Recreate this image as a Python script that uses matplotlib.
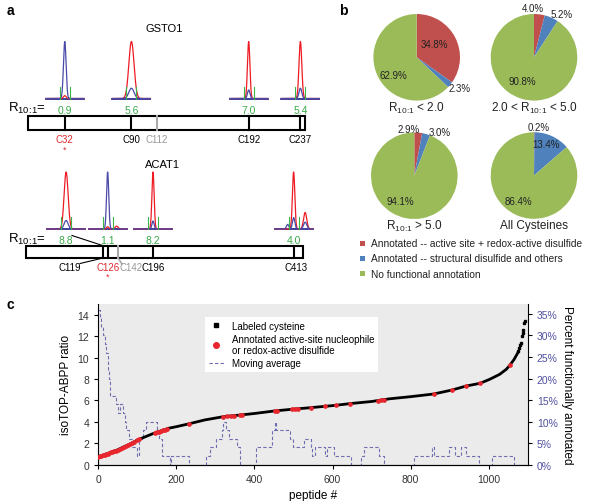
import numpy as np
import matplotlib
matplotlib.use('Agg')
import matplotlib.pyplot as plt
from matplotlib.lines import Line2D
from matplotlib.patches import Rectangle

plt.rcParams['font.family'] = ['Liberation Sans', 'DejaVu Sans']

# ---------------- data ----------------
# panel a: proteins, cysteines, ratios
gsto1_len = 241
gsto1_cys = [32, 90, 112, 192, 237]
gsto1_quant = [32, 90, 192, 237]
gsto1_ratio = ['0.9', '5.6', '7.0', '5.4']
gsto1_red = [0.05, 1.0, 1.0, 1.0]      # relative peak heights (light)
gsto1_blue = [1.0, 0.18, 0.15, 0.18]   # relative peak heights (heavy)
gsto1_sig = [1.3, 2.6, 1.2, 1.4]

acat1_len = 427
acat1_cys = [119, 126, 142, 196, 413]
acat1_quant = [119, 126, 196, 413]
acat1_ratio = ['8.8', '1.1', '8.2', '4.0']
acat1_red = [1.0, 0.04, 1.0, 1.0]
acat1_blue = [0.15, 1.0, 0.14, 0.2]
acat1_sig = [2.0, 1.1, 1.1, 1.2]

# panel b: pies
SUB = r'R$_\mathregular{10\!:\!1}$'
pie_titles = [SUB + ' < 2.0', '2.0 < ' + SUB + ' < 5.0',
              SUB + ' > 5.0', 'All Cysteines']
pie_red = [34.8, 4.0, 2.9, 0.2]
pie_blue = [2.3, 5.2, 3.0, 13.4]
pie_green = [62.9, 90.8, 94.1, 86.4]
legend_b = ['Annotated -- active site + redox-active disulfide',
            'Annotated -- structural disulfide and others',
            'No functional annotation']

# panel c: sorted ratios
curve_x = [0, 10, 20, 30, 40, 50, 60, 70, 80, 90, 100, 120, 140, 160, 180, 200,
           235, 273, 320, 367, 400, 452, 495, 546, 610, 644, 700, 746, 800, 859,
           906, 942, 978, 1002, 1028, 1045, 1054, 1065, 1074]
curve_y = [0.75, 0.85, 0.98, 1.12, 1.25, 1.4, 1.58, 1.75, 1.9, 2.1, 2.3, 2.6, 2.9,
           3.15, 3.4, 3.55, 3.84, 4.18, 4.48, 4.65, 4.78, 5.02, 5.17, 5.33, 5.55,
           5.7, 5.9, 6.15, 6.35, 6.6, 6.97, 7.34, 7.6, 7.96, 8.43, 8.9, 9.27, 9.82,
           10.4]
tip_x = [1076, 1078, 1080, 1083, 1085, 1087, 1089, 1091, 1093]
tip_y = [10.6, 10.9, 11.2, 11.4, 12.0, 12.3, 12.6, 13.2, 13.4]
red_x = [0, 4, 8, 12, 16, 20, 24, 28, 32, 36, 40, 45, 50, 55, 60, 65, 70, 75, 80,
         86, 92, 98, 104, 146, 150, 155, 160, 165, 170, 176, 232, 320, 329, 340,
         347, 362, 367, 452, 458, 495, 503, 511, 546, 580, 610, 644, 717, 725, 733,
         859, 906, 942, 978, 1054]
red_y = [0.75, 0.8, 0.83, 0.87, 0.92, 0.98, 1.03, 1.09, 1.15, 1.2, 1.25, 1.32, 1.4,
         1.49, 1.58, 1.66, 1.75, 1.82, 1.9, 2.02, 2.14, 2.26, 2.36, 2.98, 3.02, 3.09,
         3.15, 3.21, 3.28, 3.35, 3.82, 4.48, 4.5, 4.55, 4.58, 4.63, 4.65, 5.02, 5.04,
         5.17, 5.2, 5.22, 5.33, 5.45, 5.55, 5.7, 5.98, 6.02, 6.08, 6.6, 6.97, 7.34,
         7.6, 9.27]
ma_x = [0, 4, 8, 12, 16, 20, 24, 27, 30, 46, 50, 56, 64, 68, 72, 78, 86, 100, 105,
        115, 122, 150, 156, 164, 183, 186, 232, 275, 285, 302, 316, 320, 326, 336,
        356, 364, 404, 446, 452, 456, 490, 500, 528, 544, 548, 556, 581, 587, 603,
        648, 672, 681, 718, 732, 808, 855, 860, 898, 915, 928, 943, 976, 1008, 1065,
        1100]
ma_y = [36, 34, 32, 30, 28, 26, 22, 20, 16, 14, 12, 14, 12, 10, 8, 6, 4, 2, 6, 8, 10,
        8, 6, 2, 0, 2, 0, 2, 4, 6, 8, 10, 8, 6, 4, 0, 4, 8, 10, 8, 6, 4, 6, 4, 2, 4, 2,
        4, 2, 0, 2, 4, 2, 0, 2, 4, 2, 4, 2, 4, 2, 0, 2, 0, 0]

RED = '#c0504d'
BLUE = '#4f81bd'
GREEN = '#9bbb59'

W, H = 600, 502
fig = plt.figure(figsize=(6, 5.02), dpi=100)


def px_axes(x, y, w, h):
    return fig.add_axes([x / W, 1 - (y + h) / H, w / W, h / H])


# overlay in pixel coordinates (panel a, letters, pie legend)
ov = fig.add_axes([0, 0, 1, 1])
ov.set_xlim(0, W)
ov.set_ylim(H, 0)
ov.axis('off')

for letter, (lx, ly) in zip('abc', [(10, 11), (343, 11), (10, 305)]):
    ov.text(lx, ly, letter, fontsize=10, fontweight='bold', ha='center', va='center')


def chrom(cx, base, rh, bh, sig, extra=()):
    xs = np.linspace(cx - 19, cx + 19, 300)
    red = rh * np.exp(-0.5 * ((xs - cx) / sig) ** 2)
    blue = bh * np.exp(-0.5 * ((xs - cx) / sig) ** 2)
    for dx, r2, b2, s2 in extra:
        red = red + r2 * np.exp(-0.5 * ((xs - cx - dx) / s2) ** 2)
        blue = blue + b2 * np.exp(-0.5 * ((xs - cx - dx) / s2) ** 2)
    ov.plot([cx - 19, cx + 19], [base, base], color='#2e3192', lw=1.3)
    ov.plot(xs, base - 57 * red, color='#ed1c24', lw=0.9)
    ov.plot(xs, base - 57 * blue, color='#4a4aa8', lw=0.9)
    for g in (cx - 5, cx + 5):
        ov.plot([g, g], [base, base - 12], color='#39b54a', lw=0.8)


def protein(name, length, cys, quant, ratio, rh, bh, sig, x0, x1, ytop, ybot,
            base, shifts, extras, gray_c, title_y):
    ov.text((x0 + x1) / 2 - 2, title_y, name, fontsize=8, ha='center', va='center')
    ov.add_patch(Rectangle((x0, ytop), x1 - x0, ybot - ytop, fill=False,
                           ec='black', lw=1.5))
    pos = {c: x0 + c / length * (x1 - x0) for c in cys}
    for c in cys:
        col = '#aaaaaa' if c == gray_c else 'black'
        ov.plot([pos[c], pos[c]], [ytop, ybot], color=col, lw=1.5)
    for i, c in enumerate(quant):
        cx = pos[c] + shifts[i]
        chrom(cx, base, rh[i], bh[i], sig[i], extras[i])
        ov.text(cx, base + 11, ratio[i], color='#3aaa4a', fontsize=7.5,
                ha='center', va='center')
    ov.text(8, base + 9, SUB + '=', fontsize=9.5, ha='left', va='center')
    return pos


# GSTO1
pos = protein('GSTO1', gsto1_len, gsto1_cys, gsto1_quant, gsto1_ratio, gsto1_red,
              gsto1_blue, gsto1_sig, 28, 305, 117.3, 130.7, 99.5,
              [0, 0, 0, 0], [(), (), (), ()], 112, 29)
for c in gsto1_cys:
    col = '#e0282e' if c == 32 else ('#999999' if c == 112 else 'black')
    ov.text(pos[c], 140.5, 'C%d' % c, color=col, fontsize=7, ha='center', va='center')
ov.text(pos[32], 150, '*', color='#e0282e', fontsize=6.5, ha='center', va='center')

# ACAT1
pos = protein('ACAT1', acat1_len, acat1_cys, acat1_quant, acat1_ratio, acat1_red,
              acat1_blue, acat1_sig, 26, 302.7, 246.7, 259, 230,
              [-37, 0, 0, 0],
              [(), ((9, 0.05, 0.0, 1.5),), (),
               ((11.5, 0.29, 0.12, 1.6), (-6, 0.0, 0.08, 1.2))],
              142, 165)
ov.plot([72, pos[119]], [236.5, 246.7], color='black', lw=0.8)
ov.plot([80, pos[119]], [264.5, 259], color='black', lw=0.8)
ov.plot([pos[142], 122], [259, 265], color='#aaaaaa', lw=1.2)
lab_x = {119: 70, 126: pos[126], 142: 131, 196: pos[196], 413: 296.5}
for c in acat1_cys:
    col = '#e0282e' if c == 126 else ('#999999' if c == 142 else 'black')
    ov.text(lab_x[c], 268, 'C%d' % c, color=col, fontsize=7, ha='center', va='center')
ov.text(pos[126], 277.5, '*', color='#e0282e', fontsize=6.5, ha='center', va='center')

# ---------------- panel b ----------------
pie_centers = [(416.7, 58.3), (534, 58.3), (414.3, 176.7), (534, 176.5)]
pct_pos = [[(0.41, 0.31), (1.0, -0.72), (-0.54, -0.42)],
           [(-0.02, 1.15), (0.64, 1.0), (-0.28, -0.54)],
           [(-0.14, 1.09), (0.59, 1.02), (-0.33, -0.58)],
           [(0.1, 1.13), (0.29, 0.73), (-0.36, -0.58)]]
for i, (cx, cy) in enumerate(pie_centers):
    ax = px_axes(cx - 50, cy - 50, 100, 100)
    ax.pie([pie_red[i], pie_blue[i], pie_green[i]], colors=[RED, BLUE, GREEN],
           startangle=90, counterclock=False, radius=1,
           wedgeprops=dict(linewidth=0))
    ax.set_xlim(-1.155, 1.155)
    ax.set_ylim(-1.155, 1.155)
    ax.set_aspect('equal')
    ax.patch.set_visible(False)
    vals = [pie_red[i], pie_blue[i], pie_green[i]]
    for v, (tx, ty) in zip(vals, pct_pos[i]):
        ax.text(tx, ty, '%.1f%%' % v, fontsize=7, ha='center', va='center',
                color='#222222', clip_on=False)
    ov.text(cx, cy + 50, pie_titles[i], fontsize=8.5, ha='center', va='center',
            color='#222222')

for j, (lab, col) in enumerate(zip(legend_b, [RED, BLUE, GREEN])):
    yy = 244 + j * 15.3
    ov.add_patch(Rectangle((359.5, yy - 2.5), 5, 5, color=col, lw=0))
    ov.text(371, yy, lab, fontsize=7.3, ha='left', va='center', color='#222222')

# ---------------- panel c ----------------
ax_c = px_axes(98.3, 305, 429.4, 160.7)
ax_r = ax_c.twinx()
ax_c.set_zorder(ax_r.get_zorder() + 1)
ax_c.patch.set_visible(False)
ax_r.patch.set_visible(True)
ax_r.set_facecolor('#ebebeb')

ax_r.plot(ma_x, ma_y, drawstyle='steps-post', ls=(0, (3, 2)), color='#6e6eb0', lw=0.8)
ax_r.set_ylim(0, 37.3)
ax_r.set_yticks(range(0, 40, 5))
ax_r.set_yticklabels(['%d%%' % v for v in range(0, 40, 5)])
ax_r.tick_params(axis='y', direction='out', length=3, width=0.8, labelsize=7.5,
                 labelcolor='#5050a0')
ax_r.set_ylabel('Percent functionally annotated', rotation=270, labelpad=11,
                fontsize=8.5)

ax_c.plot(curve_x, curve_y, color='black', lw=2.0, zorder=3)
ax_c.plot(tip_x, tip_y, 's', color='black', ms=1.6, zorder=3)
ax_c.plot(red_x, red_y, 'o', color='#e8262d', ms=3.4, mec='none', zorder=4)
ax_c.set_xlim(0, 1100)
ax_c.set_ylim(0, 15)
ax_c.set_xticks(range(0, 1001, 200))
ax_c.set_yticks(range(0, 15, 2))
ax_c.tick_params(direction='out', length=3, width=0.8, labelsize=7.5,
                 labelcolor='#333333')
ax_c.set_xlabel('peptide #', fontsize=8.5)
ax_c.set_ylabel('isoTOP-ABPP ratio', fontsize=8.5)
for a in (ax_c, ax_r):
    a.spines['top'].set_visible(False)
ax_c.spines['right'].set_visible(False)
ax_r.spines['left'].set_visible(False)

handles = [
    Line2D([], [], marker='s', ls='none', color='black', ms=2.5,
           label='Labeled cysteine'),
    Line2D([], [], marker='o', ls='none', color='#e8262d', ms=4,
           label='Annotated active-site nucleophile\nor redox-active disulfide'),
    Line2D([], [], ls=(0, (3, 2)), color='#6e6eb0', lw=0.8, label='Moving average'),
]
leg = ax_c.legend(handles=handles, loc='upper left', bbox_to_anchor=(0.248, 0.921),
                  frameon=True, fancybox=False, edgecolor='none', facecolor='white',
                  framealpha=1, fontsize=7, handlelength=1.6, borderaxespad=0,
                  labelspacing=0.3)

fig.savefig('out.png', dpi=100)
